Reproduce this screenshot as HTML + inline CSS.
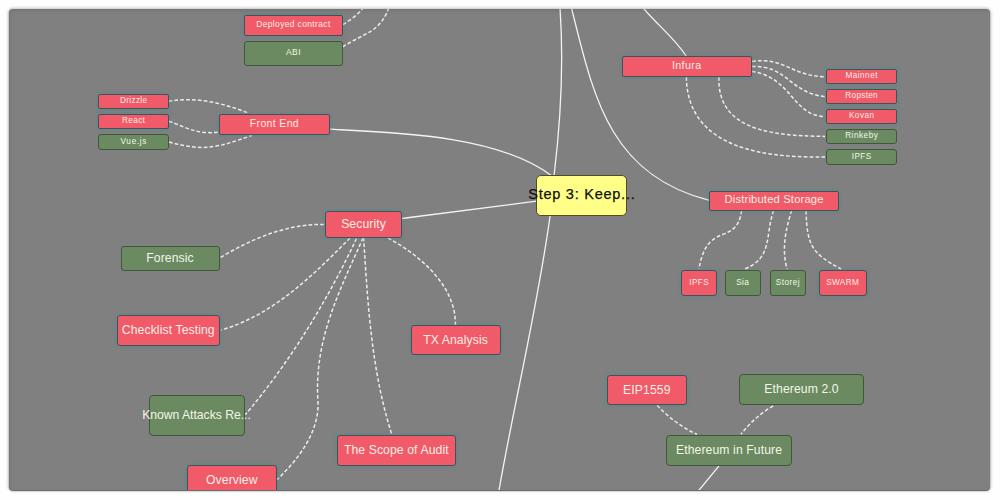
<!DOCTYPE html><html><head><meta charset="utf-8"><title>Mind map</title><style>
*{margin:0;padding:0;box-sizing:border-box}
html,body{width:1000px;height:500px;background:#fefefe;overflow:hidden;font-family:"Liberation Sans",sans-serif}
#frame{position:absolute;left:9px;top:9px;width:981.3px;height:481.3px;background:#808080;border-radius:4px;overflow:hidden;
 box-shadow:0 0 3px 1px rgba(0,0,0,0.25), 0 1px 1px rgba(0,0,0,0.55);}
#frame:before{content:"";position:absolute;left:0;top:0;right:0;bottom:0;box-shadow:inset 3px 4px 5px -3px rgba(0,0,0,0.12);z-index:5;pointer-events:none}
svg{position:absolute;left:-9px;top:-9px;width:1000px;height:500px}
.n span{display:block}
.n{position:absolute;display:flex;align-items:center;justify-content:center;white-space:nowrap;line-height:1}
.P{background:#f15a69;border:1px solid #4a5052;box-shadow:0 0 3px 1px rgba(60,145,155,0.5);color:#fdeee4}
.G{background:#6b8a61;border:1.3px solid #3e583b;color:#f2f7e8}
.Y{background:#ffff88;border:1.5px solid #4c4e28;color:#101010;-webkit-text-stroke:0.25px #101010}
</style></head><body><div id="frame">
<svg viewBox="0 0 1000 500"><path d="M329.8,129.2 C395.5,132.5 498.3,135.2 552.0,176.0" fill="none" stroke="#f4f4f4" stroke-width="1.3" stroke-linecap="round"/><path d="M554.0,176.0 C560.9,119.3 564.0,62.0 559.8,5.0" fill="none" stroke="#f4f4f4" stroke-width="1.3" stroke-linecap="round"/><path d="M570.5,4.0 C592.9,93.1 607.4,174.3 708.6,200.2" fill="none" stroke="#f4f4f4" stroke-width="1.3" stroke-linecap="round"/><path d="M640.0,4.0 C654.2,22.7 673.8,36.6 686.6,56.6" fill="none" stroke="#f4f4f4" stroke-width="1.3" stroke-linecap="round"/><path d="M401.7,218.5 L536.5,201.2" fill="none" stroke="#f4f4f4" stroke-width="1.3" stroke-linecap="round"/><path d="M550.2,215.0 C537.3,309.7 514.2,402.0 498.0,496.0" fill="none" stroke="#f4f4f4" stroke-width="1.3" stroke-linecap="round"/><path d="M718.8,466.1 L695.0,495.0" fill="none" stroke="#f4f4f4" stroke-width="1.3" stroke-linecap="round"/><path d="M343.0,24.5 C351.0,19.5 360.2,13.4 365.0,5.0" fill="none" stroke="#ececec" stroke-width="1.5" stroke-dasharray="3.7 2.2"/><path d="M342.5,47.0 C364.3,32.5 381.5,32.9 390.0,4.0" fill="none" stroke="#ececec" stroke-width="1.5" stroke-dasharray="3.7 2.2"/><path d="M168.5,101.4 C195.8,96.3 223.1,103.1 248.4,113.1" fill="none" stroke="#ececec" stroke-width="1.5" stroke-dasharray="3.7 2.2"/><path d="M168.8,121.2 C189.1,128.5 195.8,134.1 218.5,132.3" fill="none" stroke="#ececec" stroke-width="1.5" stroke-dasharray="3.7 2.2"/><path d="M168.8,142.0 C205.5,152.0 218.1,147.1 251.7,135.5" fill="none" stroke="#ececec" stroke-width="1.5" stroke-dasharray="3.7 2.2"/><path d="M751.9,61.3 C785.0,57.0 791.4,76.1 825.0,76.7" fill="none" stroke="#ececec" stroke-width="1.5" stroke-dasharray="3.7 2.2"/><path d="M751.9,66.5 C787.9,65.3 788.8,92.5 825.0,96.7" fill="none" stroke="#ececec" stroke-width="1.5" stroke-dasharray="3.7 2.2"/><path d="M751.9,71.5 C791.3,76.8 792.8,116.1 825.0,116.6" fill="none" stroke="#ececec" stroke-width="1.5" stroke-dasharray="3.7 2.2"/><path d="M719.0,77.0 C716.3,134.9 783.9,135.6 825.0,136.4" fill="none" stroke="#ececec" stroke-width="1.5" stroke-dasharray="3.7 2.2"/><path d="M686.4,77.0 C687.1,150.5 768.9,157.9 825.0,157.0" fill="none" stroke="#ececec" stroke-width="1.5" stroke-dasharray="3.7 2.2"/><path d="M741.6,210.5 C736.4,247.6 707.5,219.1 698.9,269.0" fill="none" stroke="#ececec" stroke-width="1.5" stroke-dasharray="3.7 2.2"/><path d="M773.6,210.5 C764.7,236.4 773.1,257.3 744.8,269.0" fill="none" stroke="#ececec" stroke-width="1.5" stroke-dasharray="3.7 2.2"/><path d="M791.6,210.5 C785.7,229.2 781.4,249.6 787.1,269.0" fill="none" stroke="#ececec" stroke-width="1.5" stroke-dasharray="3.7 2.2"/><path d="M806.0,210.5 C807.2,244.1 810.1,252.6 841.1,269.0" fill="none" stroke="#ececec" stroke-width="1.5" stroke-dasharray="3.7 2.2"/><path d="M324.0,224.4 C286.6,223.8 251.2,239.0 219.8,257.9" fill="none" stroke="#ececec" stroke-width="1.5" stroke-dasharray="3.7 2.2"/><path d="M350.0,238.0 C312.7,275.5 273.5,314.8 221.2,330.0" fill="none" stroke="#ececec" stroke-width="1.5" stroke-dasharray="3.7 2.2"/><path d="M356.5,238.5 C326.9,301.4 290.4,361.3 245.4,414.6" fill="none" stroke="#ececec" stroke-width="1.5" stroke-dasharray="3.7 2.2"/><path d="M363.0,238.0 C339.8,290.7 314.0,339.1 317.9,400.8  C319.8,431.0 298.8,458.9 277.2,479.6" fill="none" stroke="#ececec" stroke-width="1.5" stroke-dasharray="3.7 2.2"/><path d="M363.6,237.5 C367.8,303.7 371.4,371.4 392.0,435.0" fill="none" stroke="#ececec" stroke-width="1.5" stroke-dasharray="3.7 2.2"/><path d="M388.0,238.0 C419.4,255.1 456.2,285.6 455.4,325.0" fill="none" stroke="#ececec" stroke-width="1.5" stroke-dasharray="3.7 2.2"/><path d="M657.0,405.3 C668.4,417.3 681.9,427.4 696.9,434.3" fill="none" stroke="#ececec" stroke-width="1.5" stroke-dasharray="3.7 2.2"/><path d="M773.2,405.9 C760.7,413.0 749.8,422.9 741.0,434.3" fill="none" stroke="#ececec" stroke-width="1.5" stroke-dasharray="3.7 2.2"/></svg>
<div class="n P" style="left:234.5px;top:5.5px;width:99.5px;height:21.0px;font-size:8.5px;border-radius:2px;"><span style="letter-spacing:0.35px;margin-right:-0.35px;transform:translateY(-1.0px)">Deployed contract</span></div>
<div class="n G" style="left:234.5px;top:32.0px;width:99.5px;height:25.0px;font-size:8.5px;border-radius:3px;"><span style="letter-spacing:0.45px;margin-right:-0.45px;transform:translateY(-1.0px)">ABI</span></div>
<div class="n P" style="left:89.0px;top:85.0px;width:71.0px;height:14.5px;font-size:8.2px;border-radius:2px;"><span style="letter-spacing:0.35px;margin-right:-0.35px;transform:translateY(0.0px)">Drizzle</span></div>
<div class="n P" style="left:89.0px;top:105.0px;width:71.0px;height:15.0px;font-size:8.2px;border-radius:2px;"><span style="letter-spacing:0.35px;margin-right:-0.35px;transform:translateY(0.0px)">React</span></div>
<div class="n G" style="left:89.0px;top:125.0px;width:71.0px;height:16.0px;font-size:8.2px;border-radius:3px;"><span style="letter-spacing:0.70px;margin-right:-0.70px;transform:translateY(0.0px)">Vue.js</span></div>
<div class="n P" style="left:210.0px;top:105.0px;width:110.5px;height:21.0px;font-size:10.5px;border-radius:2px;"><span style="letter-spacing:0.35px;margin-right:-0.35px;transform:translateY(-1.0px)">Front End</span></div>
<div class="n P" style="left:612.5px;top:47.0px;width:130.0px;height:20.5px;font-size:10.75px;border-radius:2px;"><span style="letter-spacing:0.35px;margin-right:-0.35px;transform:translateY(-1.0px)">Infura</span></div>
<div class="n P" style="left:817.0px;top:60.0px;width:71.0px;height:15.0px;font-size:8.2px;border-radius:2px;"><span style="letter-spacing:0.45px;margin-right:-0.45px;transform:translateY(0.0px)">Mainnet</span></div>
<div class="n P" style="left:817.0px;top:80.0px;width:71.0px;height:15.0px;font-size:8.2px;border-radius:2px;"><span style="letter-spacing:0.30px;margin-right:-0.30px;transform:translateY(0.0px)">Ropsten</span></div>
<div class="n P" style="left:817.0px;top:100.0px;width:71.0px;height:15.0px;font-size:8.2px;border-radius:2px;"><span style="letter-spacing:0.50px;margin-right:-0.50px;transform:translateY(0.0px)">Kovan</span></div>
<div class="n G" style="left:817.0px;top:120.0px;width:71.0px;height:15.0px;font-size:8.2px;border-radius:3px;"><span style="letter-spacing:0.50px;margin-right:-0.50px;transform:translateY(0.0px)">Rinkeby</span></div>
<div class="n G" style="left:817.0px;top:140.0px;width:71.0px;height:15.5px;font-size:8.2px;border-radius:3px;"><span style="letter-spacing:0.35px;margin-right:-0.35px;transform:translateY(0.0px)">IPFS</span></div>
<div class="n P" style="left:700.0px;top:182.0px;width:130.0px;height:19.5px;font-size:11.2px;border-radius:2px;"><span style="letter-spacing:0.18px;margin-right:-0.18px;transform:translateY(-1.0px)">Distributed Storage</span></div>
<div class="n P" style="left:672.0px;top:261.0px;width:36.0px;height:25.5px;font-size:8.2px;border-radius:3px;"><span style="letter-spacing:0.35px;margin-right:-0.35px;transform:translateY(0.0px)">IPFS</span></div>
<div class="n G" style="left:715.5px;top:261.0px;width:36.0px;height:26.0px;font-size:8.2px;border-radius:3px;"><span style="letter-spacing:0.35px;margin-right:-0.35px;transform:translateY(0.0px)">Sia</span></div>
<div class="n G" style="left:760.5px;top:261.0px;width:36.5px;height:26.0px;font-size:8.2px;border-radius:3px;"><span style="letter-spacing:0.50px;margin-right:-0.50px;transform:translateY(0.0px)">Storej</span></div>
<div class="n P" style="left:809.5px;top:261.0px;width:48.0px;height:26.0px;font-size:8.2px;border-radius:3px;"><span style="letter-spacing:0.35px;margin-right:-0.35px;transform:translateY(0.0px)">SWARM</span></div>
<div class="n Y" style="left:527.2px;top:166.0px;width:90.6px;height:40.8px;font-size:14.5px;border-radius:5px;"><span style="letter-spacing:0.75px;margin-right:-0.75px;transform:translateY(-0.8px)">Step 3: Keep...</span></div>
<div class="n P" style="left:316.0px;top:201.5px;width:77.0px;height:27.0px;font-size:12.2px;border-radius:3px;"><span style="letter-spacing:0.10px;margin-right:-0.10px;transform:translateY(-0.5px)">Security</span></div>
<div class="n G" style="left:111.5px;top:237.0px;width:99.0px;height:25.0px;font-size:12.2px;border-radius:3px;"><span style="letter-spacing:0.10px;margin-right:-0.10px;transform:translateY(-0.5px)">Forensic</span></div>
<div class="n P" style="left:108.0px;top:306.0px;width:102.5px;height:30.5px;font-size:12.2px;border-radius:3px;"><span style="letter-spacing:0.10px;margin-right:-0.10px;transform:translateY(-0.5px)">Checklist Testing</span></div>
<div class="n P" style="left:401.5px;top:316.0px;width:90.0px;height:30.0px;font-size:12.2px;border-radius:3px;"><span style="letter-spacing:0.10px;margin-right:-0.10px;transform:translateY(-0.5px)">TX Analysis</span></div>
<div class="n G" style="left:139.5px;top:386.0px;width:96.0px;height:41.0px;font-size:12.2px;border-radius:4px;"><span style="letter-spacing:-0.02px;margin-right:--0.02px;transform:translateY(-0.5px)">Known Attacks Re...</span></div>
<div class="n P" style="left:328.0px;top:426.0px;width:118.5px;height:30.5px;font-size:12.2px;border-radius:3px;"><span style="letter-spacing:0.10px;margin-right:-0.10px;transform:translateY(-0.5px)">The Scope of Audit</span></div>
<div class="n P" style="left:177.5px;top:456.0px;width:90.5px;height:30.0px;font-size:12.2px;border-radius:3px;"><span style="letter-spacing:0.10px;margin-right:-0.10px;transform:translateY(-0.5px)">Overview</span></div>
<div class="n P" style="left:597.5px;top:366.0px;width:80.5px;height:30.0px;font-size:12.2px;border-radius:3px;"><span style="letter-spacing:0.10px;margin-right:-0.10px;transform:translateY(-0.5px)">EIP1559</span></div>
<div class="n G" style="left:730.0px;top:365.0px;width:125.0px;height:31.0px;font-size:12.2px;border-radius:4px;"><span style="letter-spacing:0.10px;margin-right:-0.10px;transform:translateY(-0.5px)">Ethereum 2.0</span></div>
<div class="n G" style="left:657.0px;top:426.0px;width:126.0px;height:31.0px;font-size:12.2px;border-radius:4px;"><span style="letter-spacing:0.10px;margin-right:-0.10px;transform:translateY(-0.5px)">Ethereum in Future</span></div>
</div></body></html>
